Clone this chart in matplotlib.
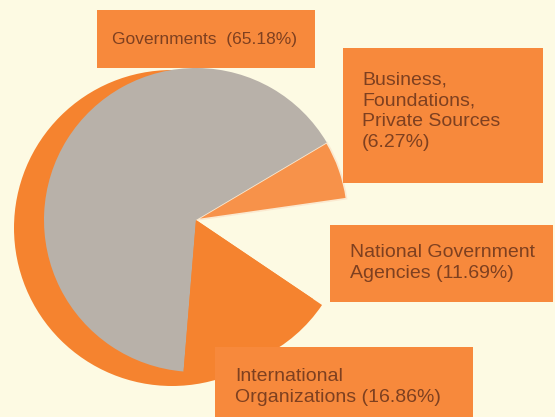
import matplotlib
matplotlib.use("Agg")
import matplotlib.pyplot as plt
from matplotlib.patches import Rectangle, Circle

# ---- data ----
names = ["National Government\nAgencies", "Business,\nFoundations,\nPrivate Sources\n",
         "Governments ", "International\nOrganizations"]
shares = [11.69, 6.27, 65.18, 16.86]

BG = "#FDFAE3"
ORANGE = "#F5832F"
BOX = "#F7893C"
LIGHT_OR = "#F7924A"
GRAY = "#B8B1A9"
TXT = "#7E4020"

W, H = 555, 417
fig = plt.figure(figsize=(W / 100, H / 100), dpi=100, facecolor=BG)
ax = fig.add_axes([0, 0, 1, 1])
ax.set_facecolor(BG)

def Y(y):
    return H - y

# orange shadow behind the pie
ax.add_patch(Circle((172, Y(228)), 158, facecolor=ORANGE, edgecolor="none", zorder=1))

wedges, _ = ax.pie(shares, center=(196, Y(220)), radius=152, startangle=-34,
                   counterclock=True, colors=[BG, LIGHT_OR, GRAY, ORANGE],
                   frame=True, wedgeprops=dict(linewidth=0))
for w in wedges:
    w.set_zorder(2)
wedges[1].set_edgecolor("#FBE9D0")
wedges[1].set_linewidth(1.2)

ax.set_xlim(0, W)
ax.set_ylim(0, H)
ax.set_aspect("equal")
ax.axis("off")

font = "Liberation Sans"

def box(x0, y0, x1, y1):
    ax.add_patch(Rectangle((x0, Y(y1)), x1 - x0, y1 - y0, facecolor=BOX,
                           edgecolor="none", zorder=3))

def lab(i):
    n = names[i]
    if n.endswith("\n"):
        return f"{n}({shares[i]:.2f}%)"
    if n.endswith(" "):
        return f"{n} ({shares[i]:.2f}%)"
    return f"{n} ({shares[i]:.2f}%)"

# Governments
box(97, 10, 315, 68)
ax.text(204, Y(39), lab(2), ha="center", va="center", fontsize=12.5,
        color=TXT, family=font, zorder=4)
# Business
box(343, 48, 543, 183)
ax.text(362, Y(111), lab(1), ha="left", va="center", fontsize=14,
        color=TXT, family=font, linespacing=1.3, zorder=4)
# National
box(330, 225, 553, 302)
ax.text(350, Y(263), lab(0), ha="left", va="center", fontsize=14,
        color=TXT, family=font, linespacing=1.3, zorder=4)
# International
box(215, 347, 473, 430)
ax.text(235, Y(387), lab(3), ha="left", va="center", fontsize=14,
        color=TXT, family=font, linespacing=1.25, zorder=4)

fig.savefig("out.png", dpi=100, facecolor=BG)
